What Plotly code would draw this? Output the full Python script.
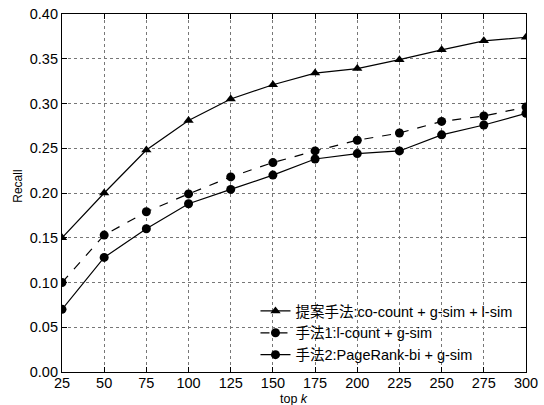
import plotly.graph_objects as go

top_k = [25, 50, 75, 100, 125, 150, 175, 200, 225, 250, 275, 300]
proposed = [0.150, 0.200, 0.248, 0.281, 0.305, 0.321, 0.334, 0.339, 0.349, 0.360, 0.370, 0.374]
method1 = [0.100, 0.153, 0.179, 0.199, 0.218, 0.234, 0.247, 0.259, 0.267, 0.280, 0.286, 0.296]
method2 = [0.070, 0.128, 0.160, 0.188, 0.204, 0.220, 0.238, 0.244, 0.247, 0.265, 0.276, 0.289]

names = ["提案手法:co-count + g-sim + l-sim", "手法1:l-count + g-sim", "手法2:PageRank-bi + g-sim"]
x_ticks = [25, 50, 75, 100, 125, 150, 175, 200, 225, 250, 275, 300]
y_ticks = [0.00, 0.05, 0.10, 0.15, 0.20, 0.25, 0.30, 0.35, 0.40]
x_title = "top <i>k</i>"
y_title = "Recall"

FONT = "Liberation Sans, Noto Sans CJK JP, sans-serif"

fig = go.Figure()
fig.add_trace(go.Scatter(x=top_k, y=proposed, name=names[0], mode="lines+markers",
                         line=dict(color="black", width=1.2),
                         marker=dict(symbol="triangle-up", size=9, color="black")))
fig.add_trace(go.Scatter(x=top_k, y=method1, name=names[1], mode="lines+markers",
                         line=dict(color="black", width=1.2, dash="dash"),
                         marker=dict(symbol="circle", size=9, color="black")))
fig.add_trace(go.Scatter(x=top_k, y=method2, name=names[2], mode="lines+markers",
                         line=dict(color="black", width=1.2),
                         marker=dict(symbol="circle", size=9, color="black")))

axis_common = dict(
    showline=True, linecolor="black", linewidth=1.2, mirror="ticks",
    ticks="inside", ticklen=5, tickcolor="black",
    showgrid=True, gridcolor="#777", griddash="dot", gridwidth=1,
    zeroline=False, automargin=False,
    tickfont=dict(family=FONT, size=14.5, color="black"),
)

fig.update_xaxes(range=[25, 300], tickvals=x_ticks, ticktext=[str(v) for v in x_ticks],
                 ticklabelstandoff=-3, **axis_common)
fig.update_yaxes(range=[0, 0.40], tickvals=y_ticks, ticktext=[f"{v:.2f}" for v in y_ticks],
                 ticklabelstandoff=0, **axis_common)

fig.add_annotation(text=x_title, xref="paper", yref="paper", x=0.5, y=-0.075,
                   xanchor="center", yanchor="middle", showarrow=False,
                   font=dict(family=FONT, size=12.5, color="black"))
fig.add_annotation(text=y_title, xref="paper", yref="paper", x=-0.095, y=0.52,
                   xanchor="center", yanchor="middle", textangle=-90, showarrow=False,
                   font=dict(family=FONT, size=12, color="black"))

fig.update_layout(
    width=544, height=405,
    margin=dict(l=62, r=18, t=14, b=33),
    paper_bgcolor="white", plot_bgcolor="white",
    font=dict(family=FONT, size=14, color="black"),
    legend=dict(x=0.417, y=0.215, xanchor="left", yanchor="top",
                bgcolor="rgba(255,255,255,0)", borderwidth=0,
                font=dict(family=FONT, size=14.5, color="black"),
                tracegroupgap=0, itemwidth=30),
    showlegend=True,
)

fig.write_html("out.html", config={"displayModeBar": False},
               post_script="document.body.style.margin='0';")
